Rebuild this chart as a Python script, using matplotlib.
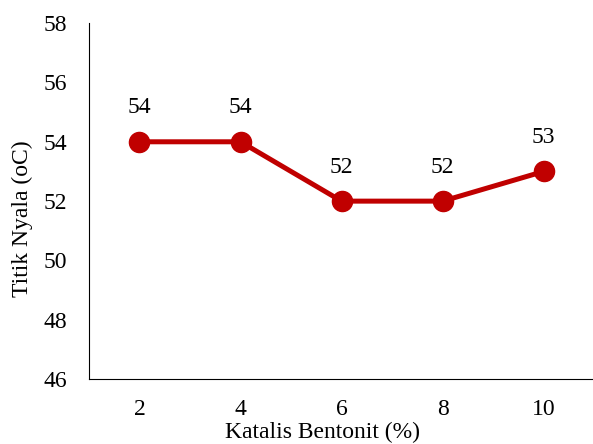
import matplotlib.pyplot as plt

categories = ['2', '4', '6', '8', '10']
titik_nyala = [54, 54, 52, 52, 53]

plt.rcParams['font.family'] = ['Liberation Serif', 'DejaVu Serif']
plt.rcParams['font.size'] = 17

fig = plt.figure(figsize=(5.93, 4.44), dpi=100)
ax = fig.add_axes([0.150, 0.146, 0.852, 0.802])

x = range(len(categories))
ax.plot(x, titik_nyala, color='#C00000', linewidth=3.6, marker='o',
        markersize=14.5, clip_on=False)
for xi, v in zip(x, titik_nyala):
    ax.annotate(str(v), (xi, v), textcoords='offset points', xytext=(0, 17),
                ha='center', va='bottom', fontsize=17)

ax.set_xlim(-0.5, len(categories) - 0.5)
ax.set_ylim(46, 58)
ax.set_yticks(range(46, 59, 2))
ax.set_xticks(list(x))
ax.set_xticklabels(categories)
ax.tick_params(axis='x', length=0, pad=14)
ax.tick_params(axis='y', length=0, pad=16)
for s in ['top', 'right']:
    ax.spines[s].set_visible(False)
ax.spines['left'].set_color('#000000')
ax.spines['bottom'].set_color('#000000')
ax.set_xlabel('Katalis Bentonit (%)')
ax.set_ylabel('Titik Nyala (oC)')
ax.xaxis.set_label_coords(0.463, -0.121)
ax.yaxis.set_label_coords(-0.111, 0.452)

fig.savefig('out.png', dpi=100)
